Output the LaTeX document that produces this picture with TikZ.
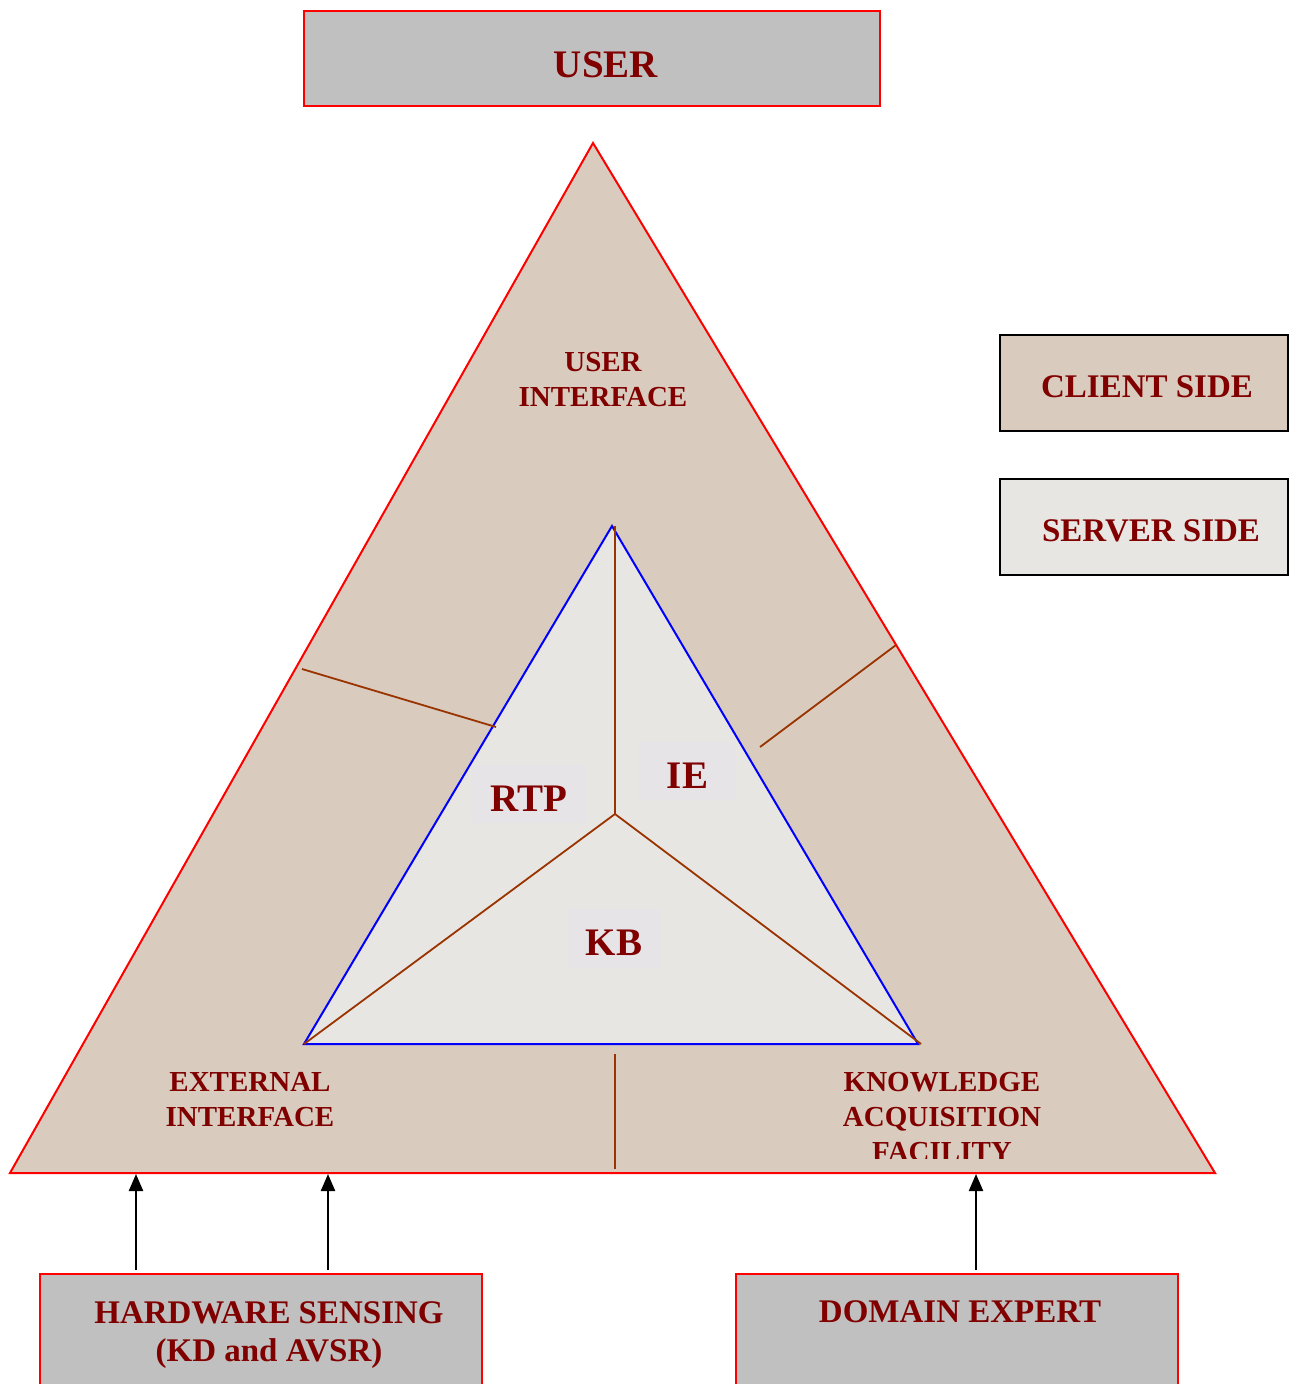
\documentclass[tikz,border=0pt]{standalone}
\usepackage{fontspec}
\setmainfont{Liberation Serif}
\usepackage{tikz}
\usetikzlibrary{arrows.meta,positioning}

\definecolor{darkred}{RGB}{128,0,0}
\definecolor{clientfill}{RGB}{217,203,190}
\definecolor{serverfill}{RGB}{232,230,227}
\definecolor{boxgray}{RGB}{192,192,192}
\definecolor{divbrown}{RGB}{153,51,0}
\definecolor{tagfill}{RGB}{230,228,231}

\begin{document}
\begin{tikzpicture}[x=0.5pt,y=-0.5pt,
  lbl/.style={text=darkred,font=\bfseries\fontsize{14.5}{17.5}\selectfont,align=center},
  big/.style={text=darkred,font=\bfseries\fontsize{19.5}{23}\selectfont,inner sep=0pt},
  side/.style={text=darkred,font=\bfseries\fontsize{16.5}{19}\selectfont},
  ext/.style={text=darkred,font=\bfseries\fontsize{16.5}{19}\selectfont,align=center},
  graybox/.style={draw=red,line width=0.8pt,fill=boxgray,anchor=north west,inner sep=0pt},
  keybox/.style={draw=black,line width=0.8pt,anchor=north west,inner sep=0pt,
    minimum width=144pt,minimum height=48pt},
  tag/.style={big,fill=tagfill,text height=17pt,text depth=0pt},
  part/.style={draw=divbrown,line width=0.9pt},
  flow/.style={-{Triangle[length=8.5pt,width=7pt]},line width=1.1pt}]
\useasboundingbox (0,0) rectangle (1295,1384);

% outer triangle: client side
\coordinate (top) at (593,143);
\coordinate (bl) at (10,1173);
\coordinate (br) at (1215,1173);
\draw[red,line width=1pt,fill=clientfill] (top) -- (bl) -- (br) -- cycle;

% inner triangle: server side
\coordinate (itop) at (612,526);
\coordinate (ibl) at (304,1044);
\coordinate (ibr) at (918,1044);
\coordinate (mid) at (615,814);
\fill[serverfill] (itop) -- (ibl) -- (ibr) -- cycle;
\draw[blue,line width=1pt] (itop) -- (ibl) -- (ibr) -- cycle;
\draw[part] (615,526) -- (mid) -- (ibl);
\draw[part] (mid) -- (921,1044);

% dividers of the outer ring
\draw[part] (302,669) -- (496,727);
\draw[part] (760,747) -- (896,645);
\draw[part] (615,1054) -- (615,1169);

% ring labels
\node[lbl] (ui) at (603,379.5) {USER\\INTERFACE};
\node[lbl] (ei) at (250,1099.5) {EXTERNAL\\INTERFACE};
\begin{scope}
  \clip (0,0) rectangle (1295,1158);
  \node[lbl] (kaf) at (942,1117) {KNOWLEDGE\\ACQUISITION\\FACILITY};
\end{scope}

% server parts
\node[tag,minimum width=58pt,minimum height=29pt] (rtp) at (529,794) {RTP};
\node[tag,minimum width=48.5pt,minimum height=29pt] (ie) at (687.5,771) {IE};
\node[tag,minimum width=46pt,minimum height=29.5pt] (kb) at (614,938.5) {KB};

% boxes
\node[graybox,minimum width=288pt,minimum height=47.5pt] (user) at (303,10) {};
\node[big] at (606,65) {USER};
\node[keybox,fill=clientfill] (client) at (999,334) {};
\node[side] at (1147,387) {CLIENT SIDE};
\node[keybox,fill=serverfill] (server) at (999,478) {};
\node[side] at (1151,531) {SERVER SIDE};
\node[graybox,minimum width=221pt,minimum height=70pt] (hw) at (39,1273) {};
\node[ext] at (269,1335) {HARDWARE SENSING\\(KD and AVSR)};
\node[graybox,minimum width=221pt,minimum height=70pt] (de) at (735,1273) {};
\node[ext] at (960,1312) {DOMAIN EXPERT};

% inputs
\coordinate (in1) at (136,1174);
\coordinate (in2) at (328,1174);
\coordinate (in3) at (976,1174);
\foreach \a/\b in {hw/in1,hw/in2,de/in3}
  \draw[flow] ([yshift=1.5pt]\a.north -| \b) -- (\b);
\end{tikzpicture}
\end{document}
